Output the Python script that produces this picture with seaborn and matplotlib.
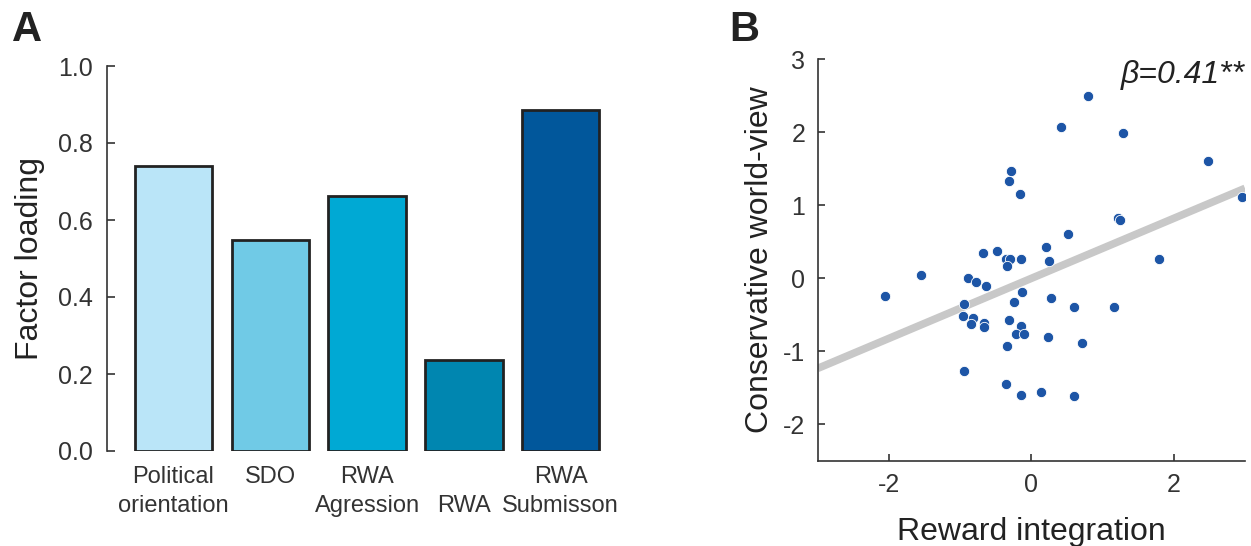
import numpy as np
import pandas as pd
import matplotlib
matplotlib.use("Agg")
import matplotlib.pyplot as plt
import seaborn as sns

# ---- data ----
categories = ["Political\norientation", "SDO\n", "RWA\nAgression", "\nRWA", "RWA\nSubmisson"]
loadings = [0.741, 0.549, 0.663, 0.236, 0.886]
bar_colors = ["#bae5f8", "#70cae6", "#00a9d4", "#0086b0", "#01579b"]

reward_integration = [0.80, 0.42, 1.29, 2.48, -0.29, -0.31, -0.16, 2.96, 1.22, 1.24,
                      0.52, 0.21, -0.68, -0.48, -0.35, -0.30, -0.14, -0.34, 0.25, 1.79,
                      -1.55, -2.06, -0.89, -0.78, -0.64, -0.13, -0.25, 0.27, 0.60, 1.16,
                      -0.95, -0.96, -0.82, -0.85, -0.67, -0.66, -0.31, -0.15, -0.22, -0.11,
                      0.23, 0.71, -0.34, -0.94, -0.35, -0.15, 0.14, 0.60]
conservative = [2.50, 2.07, 1.99, 1.60, 1.47, 1.33, 1.15, 1.11, 0.82, 0.80,
                0.61, 0.43, 0.34, 0.38, 0.27, 0.27, 0.27, 0.17, 0.24, 0.27,
                0.04, -0.24, 0.00, -0.05, -0.11, -0.19, -0.32, -0.27, -0.40, -0.40,
                -0.35, -0.52, -0.54, -0.63, -0.61, -0.67, -0.57, -0.65, -0.77, -0.77,
                -0.81, -0.89, -0.93, -1.27, -1.45, -1.60, -1.56, -1.61]
beta_text = "β=0.41**"

sns.set_theme(style="white")
plt.rcParams["font.family"] = ["Liberation Sans", "DejaVu Sans"]
plt.rcParams["axes.unicode_minus"] = False
plt.rcParams["text.color"] = "#222222"
plt.rcParams["axes.labelcolor"] = "#222222"
plt.rcParams["xtick.color"] = "#333333"
plt.rcParams["ytick.color"] = "#333333"

W, H = 1251, 546
fig = plt.figure(figsize=(W / 100, H / 100), dpi=100)

# ---- Panel A ----
axA = fig.add_axes([106.7 / W, 1 - 451 / H, 512 / W, (451 - 66) / H])
dfA = pd.DataFrame({"cat": categories, "val": loadings})
sns.barplot(data=dfA, x="cat", y="val", hue="cat", palette=bar_colors, legend=False,
            width=0.8, edgecolor="#222222", linewidth=2.0, ax=axA, saturation=1)
axA.set_xlim(-0.69, 4.6)
axA.set_ylim(0, 1.0)
axA.set_yticks([0, 0.2, 0.4, 0.6, 0.8, 1.0])
axA.set_yticklabels(["0.0", "0.2", "0.4", "0.6", "0.8", "1.0"])
for s in ["top", "right", "bottom"]:
    axA.spines[s].set_visible(False)
axA.spines["left"].set_color("#333333")
axA.spines["left"].set_linewidth(1.2)
axA.tick_params(axis="y", direction="in", length=6, width=1.2, labelsize=18, pad=10, left=True)
axA.tick_params(axis="x", length=0, labelsize=17, pad=11)
for lbl in axA.get_xticklabels():
    lbl.set_linespacing(1.4)
axA.set_xlabel("")
axA.set_ylabel("Factor loading", fontsize=23, labelpad=9)

# ---- Panel B ----
axB = fig.add_axes([817.7 / W, 1 - 460.7 / H, (1245 - 817.7) / W, (460.7 - 59.3) / H])
axB.set_xlim(-3, 3)
axB.set_ylim(-2.5, 3)
dfB = pd.DataFrame({"x": reward_integration, "y": conservative})
sns.regplot(data=dfB, x="x", y="y", ci=None, truncate=False, scatter=False,
            line_kws=dict(color="#c8c8c8", linewidth=5.5, solid_capstyle="butt", zorder=1), ax=axB)
sns.scatterplot(data=dfB, x="x", y="y", color="#1d55a6", s=55, edgecolor="white",
                linewidth=0.6, ax=axB, zorder=3)
axB.set_xlim(-3, 3)
axB.set_ylim(-2.5, 3)
axB.set_xticks([-2, 0, 2])
axB.set_yticks([-2, -1, 0, 1, 2, 3])
for s in ["top", "right"]:
    axB.spines[s].set_visible(False)
for s in ["left", "bottom"]:
    axB.spines[s].set_color("#333333")
    axB.spines[s].set_linewidth(1.2)
axB.tick_params(axis="both", direction="in", length=5, width=1.2, labelsize=18,
                left=True, bottom=True)
axB.tick_params(axis="y", pad=9)
axB.tick_params(axis="x", pad=9)
axB.set_xlabel("Reward integration", fontsize=23, labelpad=14)
axB.set_ylabel("Conservative world-view", fontsize=23, labelpad=6)
axB.text(1.0, 0.962, beta_text, transform=axB.transAxes, ha="right", va="center",
         fontsize=23, style="italic")

# panel letters
fig.text(12 / W, 1 - 41 / H, "A", fontsize=30, fontweight="bold", ha="left", va="baseline")
fig.text(729 / W, 1 - 41 / H, "B", fontsize=30, fontweight="bold", ha="left", va="baseline")

fig.savefig("out.png", dpi=100)
